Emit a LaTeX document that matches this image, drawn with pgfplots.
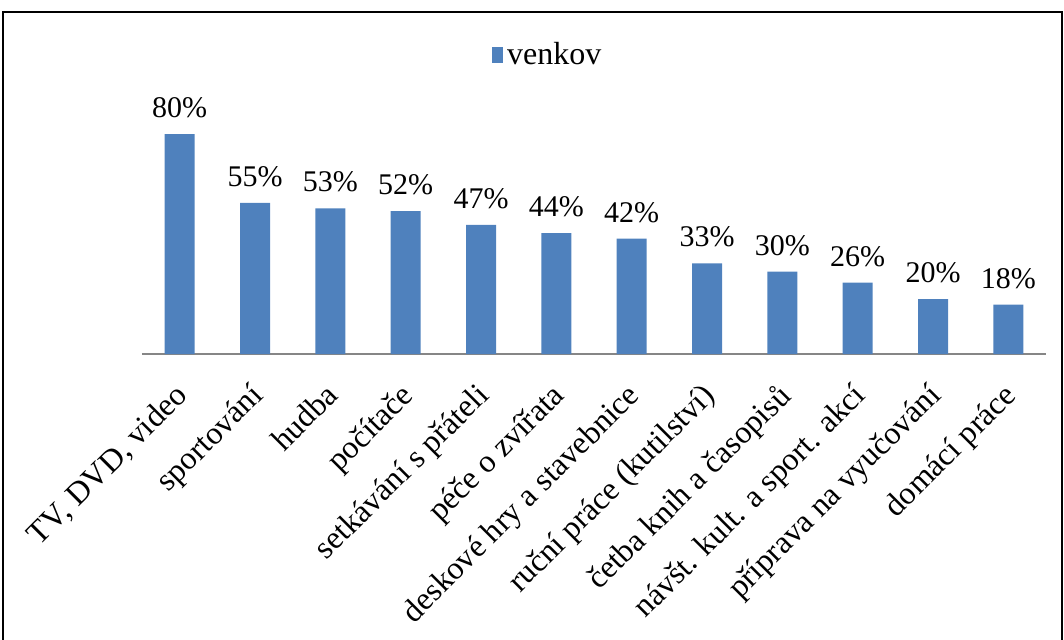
\documentclass[border=0pt]{standalone}
\usepackage{pgfplots}
\pgfplotsset{compat=1.18}
\usepackage{fontspec}
\setmainfont{Liberation Serif}
\definecolor{barblue}{HTML}{4F81BD}
\definecolor{axgray}{HTML}{868686}
\begin{document}
\begin{tikzpicture}
\useasboundingbox (-71pt,-142.5pt) rectangle (461pt,177pt);
\draw[line width=0.9pt] (-69.5pt,171pt) rectangle (460pt,-146pt);
\begin{axis}[
  at={(0,0)}, anchor=south west,
  scale only axis,
  width=452pt, height=123.75pt,
  ymin=0, ymax=90,
  xmin=-0.5, xmax=11.5,
  hide y axis,
  axis x line*=bottom,
  x axis line style={draw=axgray, line width=1pt, -},
  xtick=data,
  xtick style={draw=none},
  xticklabels={{TV, DVD, video}, sportování, hudba, počítače, setkávání s přáteli, péče o zvířata, deskové hry a stavebnice, ruční práce (kutilství), četba knih a časopisů, návšt. kult. a sport. akcí, příprava na vyučování, domácí práce},
  xticklabel style={xshift=-3.2pt, yshift=-7.8pt, rotate=45, anchor=north east, font=\fontsize{16pt}{19pt}\selectfont, inner sep=1pt},
  clip=false,
  ybar,
  bar width=15pt,
  nodes near coords={\pgfmathprintnumber[assume math mode=true]{\pgfplotspointmeta}\%},
  every node near coord/.append style={font=\fontsize{15pt}{18pt}\selectfont, text=black, yshift=4.5pt},
  legend style={at={(axis description cs:0.450,1.208)}, anchor=center, draw=none, fill=none, font=\fontsize{16pt}{19pt}\selectfont, inner sep=0pt},
  legend image code/.code={\fill[barblue] (0pt,-3.8pt) rectangle (5.5pt,3.8pt);},
]
\addplot[fill=barblue, draw=none] coordinates {(0,80) (1,55) (2,53) (3,52) (4,47) (5,44) (6,42) (7,33) (8,30) (9,26) (10,20) (11,18)};
\addlegendentry{venkov}
\end{axis}
\end{tikzpicture}
\end{document}
